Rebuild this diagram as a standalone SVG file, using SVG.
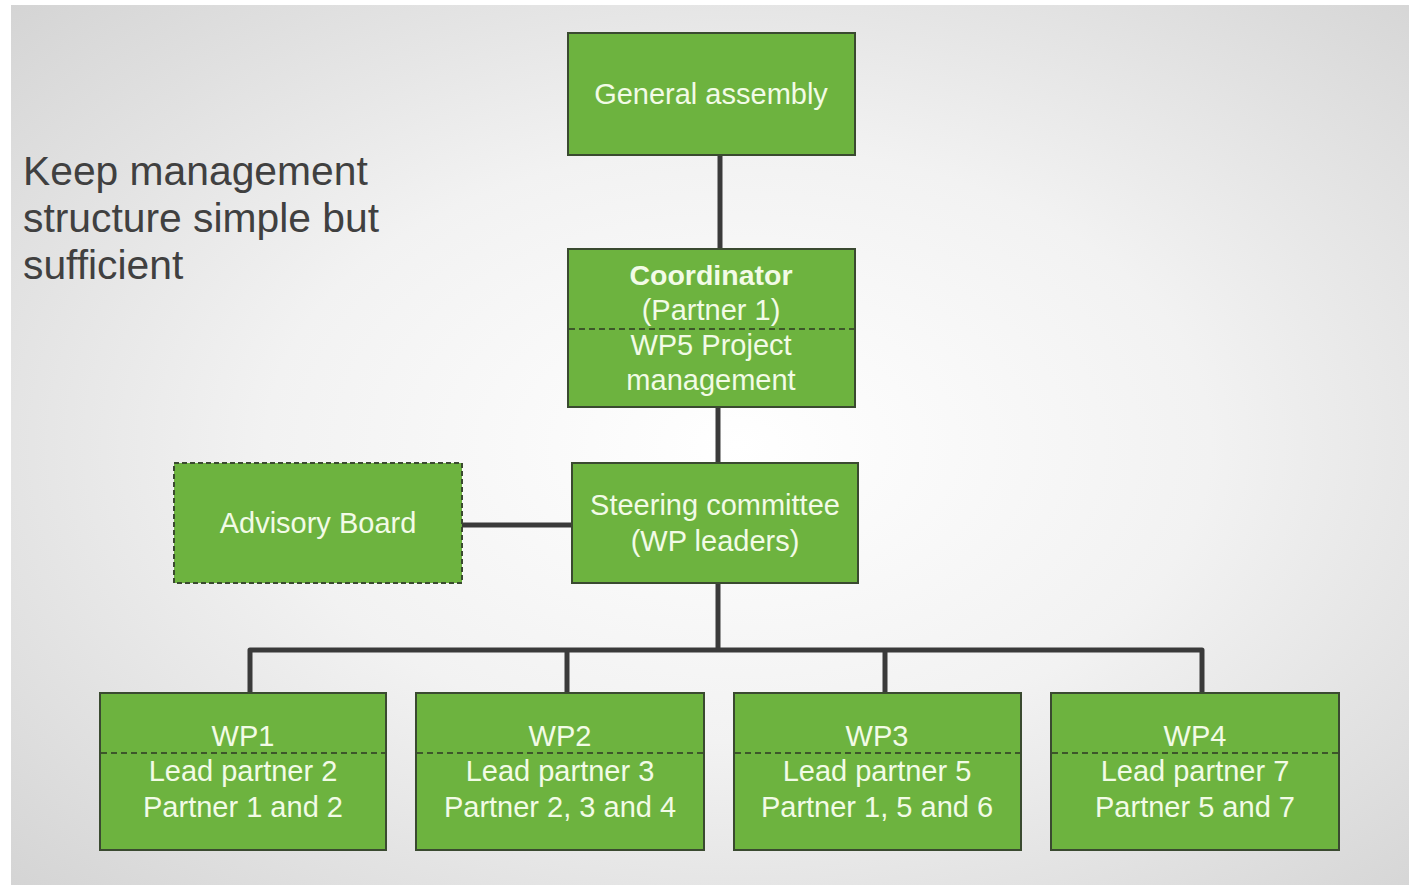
<svg xmlns="http://www.w3.org/2000/svg" width="1409" height="895" viewBox="0 0 1409 895">
<defs>
<radialGradient id="bg" cx="0.52" cy="0.5" r="0.75">
<stop offset="0" stop-color="#ffffff"/>
<stop offset="0.45" stop-color="#f2f2f2"/>
<stop offset="1" stop-color="#d2d2d2"/>
</radialGradient>
<style>
.box{fill:#6db33f;stroke:#3a4a30;stroke-width:2}
.dbox{fill:#6db33f;stroke:#3a4a30;stroke-width:2;stroke-dasharray:5 3}
.sep{stroke:#2e3a25;stroke-width:1.5;stroke-dasharray:6 4;fill:none}
.t{font-family:"Liberation Sans",Arial,sans-serif;font-size:29px;fill:#f2fbe6;text-anchor:middle}
.b{font-weight:bold;font-size:28.5px}
.conn{stroke:#3a3a3a;stroke-width:5;fill:none;stroke-linejoin:round}
.title{font-family:"Liberation Sans",Arial,sans-serif;font-size:40.8px;fill:#404040}
</style>
</defs>
<rect x="0" y="0" width="1409" height="895" fill="#ffffff"/>
<rect x="11" y="5" width="1398" height="880" fill="url(#bg)"/>
<text class="title" x="23" y="185">Keep management</text>
<text class="title" x="23" y="232">structure simple but</text>
<text class="title" x="23" y="279">sufficient</text>
<g id="connectors">
<line class="conn" x1="720" y1="155" x2="720" y2="249"/>
<line class="conn" x1="718" y1="407" x2="718" y2="463"/>
<line class="conn" x1="462" y1="525" x2="572" y2="525"/>
<path class="conn" d="M718 583 V650"/>
<path class="conn" d="M250 693 V650 H1202 V693"/>
<line class="conn" x1="567" y1="650" x2="567" y2="693"/>
<line class="conn" x1="885" y1="650" x2="885" y2="693"/>
</g>
<g id="general-assembly">
<rect class="box" x="568" y="33" width="287" height="122"/>
<text class="t" x="711" y="104">General assembly</text>
</g>
<g id="coordinator">
<rect class="box" x="568" y="249" width="287" height="158"/>
<line class="sep" x1="569" y1="329" x2="854" y2="329"/>
<text class="t b" x="711" y="285">Coordinator</text>
<text class="t" x="711" y="320">(Partner 1)</text>
<text class="t" x="711" y="355">WP5 Project</text>
<text class="t" x="711" y="390">management</text>
</g>
<g id="steering-committee">
<rect class="box" x="572" y="463" width="286" height="120"/>
<text class="t" x="715" y="515">Steering committee</text>
<text class="t" x="715" y="551">(WP leaders)</text>
</g>
<g id="advisory-board">
<rect class="dbox" x="174" y="463" width="288" height="120"/>
<text class="t" x="318" y="533">Advisory Board</text>
</g>
<g id="wp1">
<rect class="box" x="100" y="693" width="286" height="157"/>
<line class="sep" x1="101" y1="753" x2="385" y2="753"/>
<text class="t" x="243" y="746">WP1</text>
<text class="t" x="243" y="781">Lead partner 2</text>
<text class="t" x="243" y="817">Partner 1 and 2</text>
</g>
<g id="wp2">
<rect class="box" x="416" y="693" width="288" height="157"/>
<line class="sep" x1="417" y1="753" x2="703" y2="753"/>
<text class="t" x="560" y="746">WP2</text>
<text class="t" x="560" y="781">Lead partner 3</text>
<text class="t" x="560" y="817">Partner 2, 3 and 4</text>
</g>
<g id="wp3">
<rect class="box" x="734" y="693" width="287" height="157"/>
<line class="sep" x1="735" y1="753" x2="1020" y2="753"/>
<text class="t" x="877" y="746">WP3</text>
<text class="t" x="877" y="781">Lead partner 5</text>
<text class="t" x="877" y="817">Partner 1, 5 and 6</text>
</g>
<g id="wp4">
<rect class="box" x="1051" y="693" width="288" height="157"/>
<line class="sep" x1="1052" y1="753" x2="1338" y2="753"/>
<text class="t" x="1195" y="746">WP4</text>
<text class="t" x="1195" y="781">Lead partner 7</text>
<text class="t" x="1195" y="817">Partner 5 and 7</text>
</g>
</svg>
